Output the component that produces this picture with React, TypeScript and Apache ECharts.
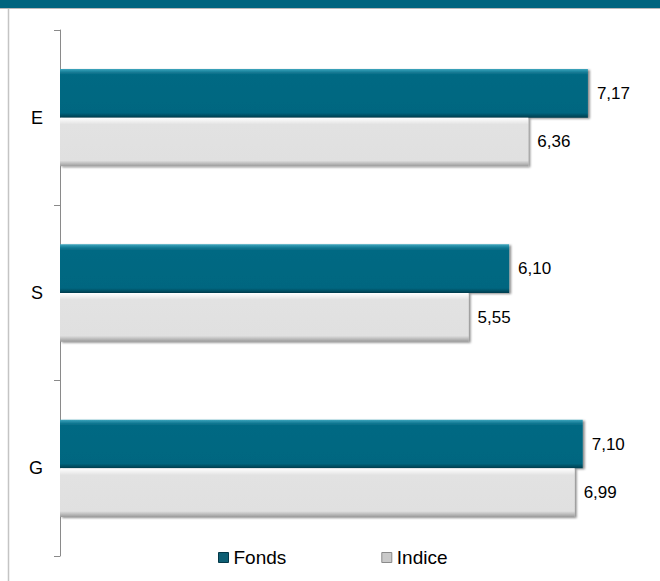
import React, { useEffect, useRef } from "react";
import * as echarts from "echarts";

const categories = ["E", "S", "G"];
const fondsValues = [7.17, 6.1, 7.1];
const indiceValues = [6.36, 5.55, 6.99];
const seriesNames = ["Fonds", "Indice"];

const fmt = (v: number) => v.toFixed(2).replace(".", ",");

export default function App() {
  const ref = useRef<HTMLDivElement>(null);
  useEffect(() => {
    if (!ref.current) return;
    const chart = echarts.init(ref.current, null, { renderer: "svg" });
    const font = "'Liberation Sans', Arial, sans-serif";
    const tealFill = new echarts.graphic.LinearGradient(0, 0, 0, 1, [
      { offset: 0, color: "#3ea6be" },
      { offset: 0.07, color: "#137a94" },
      { offset: 0.12, color: "#036983" },
      { offset: 0.9, color: "#006680" },
      { offset: 1, color: "#003d4d" },
    ]);
    const greyFill = new echarts.graphic.LinearGradient(0, 0, 0, 1, [
      { offset: 0, color: "#ffffff" },
      { offset: 0.08, color: "#efefef" },
      { offset: 0.14, color: "#e2e2e2" },
      { offset: 0.88, color: "#e0e0e0" },
      { offset: 1, color: "#9a9a9a" },
    ]);
    const labelStyle = {
      show: true,
      position: "right",
      distance: 9,
      fontFamily: font,
      fontSize: 17,
      color: "#000",
      formatter: (p: any) => fmt(p.value),
    };
    const shadow = {
      shadowColor: "rgba(0,0,0,0.45)",
      shadowBlur: 2,
      shadowOffsetX: 2,
      shadowOffsetY: 1,
    };
    chart.setOption({
      animation: false,
      backgroundColor: "#ffffff",
      graphic: [
        { type: "rect", shape: { x: 0, y: 0, width: 660, height: 8 }, style: { fill: "#00647e" } },
        { type: "line", shape: { x1: 0, y1: 8.5, x2: 660, y2: 8.5 }, style: { stroke: "#b8b8b8", lineWidth: 1 } },
        { type: "line", shape: { x1: 8.5, y1: 9, x2: 8.5, y2: 581 }, style: { stroke: "#c4c4c4", lineWidth: 1.5 } },
      ],
      grid: { left: 60, right: 11, top: 30, bottom: 25, containLabel: false },
      legend: {
        left: 213,
        top: 543,
        itemWidth: 10,
        itemHeight: 10,
        itemGap: 95,
        icon: "rect",
        textStyle: { fontFamily: font, fontSize: 19, color: "#000" },
        data: [
          {
            name: seriesNames[0],
            itemStyle: { color: "#0e5f74", borderColor: "#033848", borderWidth: 1, shadowBlur: 0, shadowOffsetX: 0, shadowOffsetY: 0 },
          },
          {
            name: seriesNames[1],
            itemStyle: { color: "#c9c9c9", borderColor: "#8a8a8a", borderWidth: 1, shadowBlur: 0, shadowOffsetX: 0, shadowOffsetY: 0 },
          },
        ],
      },
      xAxis: {
        type: "value",
        min: 0,
        max: 8,
        show: false,
      },
      yAxis: {
        type: "category",
        data: categories,
        inverse: true,
        axisLine: { show: true, lineStyle: { color: "#8a8a8a", width: 1 } },
        axisTick: { show: true, length: 6, inside: false, lineStyle: { color: "#8a8a8a" } },
        axisLabel: { fontFamily: font, fontSize: 18, color: "#000", margin: 17 },
      },
      series: [
        {
          name: seriesNames[0],
          type: "bar",
          data: fondsValues,
          barGap: "0%",
          barCategoryGap: "44.5%",
          itemStyle: { color: tealFill, ...shadow },
          label: labelStyle,
        },
        {
          name: seriesNames[1],
          type: "bar",
          data: indiceValues,
          barGap: "0%",
          barCategoryGap: "44.5%",
          itemStyle: { color: greyFill, ...shadow },
          label: labelStyle,
        },
      ],
    });
    return () => chart.dispose();
  }, []);
  return (
    <div
      ref={ref}
      style={{ position: "fixed", left: 0, top: 0, width: 660, height: 581 }}
    />
  );
}
